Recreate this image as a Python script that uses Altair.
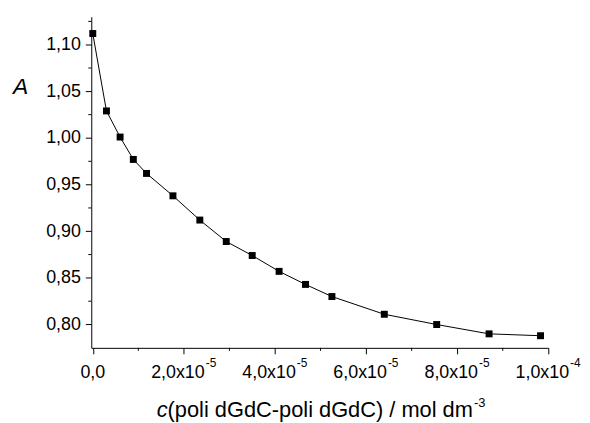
import altair as alt
import pandas as pd

# --- data ---
conc = [0.0, 3.0e-6, 6.0e-6, 8.9e-6, 11.8e-6, 17.6e-6, 23.5e-6, 29.3e-6, 35.0e-6,
        40.9e-6, 46.7e-6, 52.5e-6, 64.0e-6, 75.5e-6, 87.0e-6, 98.3e-6]
absorb = [1.112, 1.029, 1.001, 0.977, 0.962, 0.938, 0.912, 0.889, 0.874,
          0.857, 0.843, 0.830, 0.811, 0.800, 0.790, 0.788]

x_ticks = [0.0, 2e-5, 4e-5, 6e-5, 8e-5, 1e-4]
x_mant = ["0,0", "2,0x10", "4,0x10", "6,0x10", "8,0x10", "1,0x10"]
x_exp = ["", "-5", "-5", "-5", "-5", "-4"]
x_minor = [1e-5, 3e-5, 5e-5, 7e-5, 9e-5]
y_ticks = [0.80, 0.85, 0.90, 0.95, 1.00, 1.05, 1.10]
y_minor = [0.825, 0.875, 0.925, 0.975, 1.025, 1.075, 1.125]

x_title_main = "(poli dGdC-poli dGdC) / mol dm"
x_title_var = "c"
x_title_sup = "-3"
y_title = "A"

FONT = "Liberation Sans"

df = pd.DataFrame({"conc": conc, "A": absorb})
ticks_df = pd.DataFrame({"conc": x_ticks, "mant": x_mant, "exp": x_exp})
zero_df = ticks_df.iloc[:1]
rest_df = ticks_df.iloc[1:]
xminor_df = pd.DataFrame({"conc": x_minor})
yminor_df = pd.DataFrame({"A": y_minor})

xscale = alt.Scale(domain=[-0.33e-6, 1.0e-4], nice=False, zero=False)
yscale = alt.Scale(domain=[0.775, 1.13], nice=False, zero=False)

x_axis = alt.Axis(values=x_ticks, labels=False, tickSize=6, tickColor="black",
                  domainColor="black", domainWidth=1, tickWidth=1, grid=False)
y_axis = alt.Axis(values=y_ticks, tickSize=6, tickColor="black",
                  domainColor="black", domainWidth=1, tickWidth=1, grid=False,
                  labelExpr="replace(format(datum.value, '.2f'), '.', ',')",
                  labelFont=FONT, labelFontSize=18, labelColor="black",
                  labelPadding=5)


def xe():
    return alt.X("conc:Q", scale=xscale, title=None, axis=x_axis)


def ye():
    return alt.Y("A:Q", scale=yscale, title=None, axis=y_axis)


line = alt.Chart(df).mark_line(color="black", strokeWidth=1).encode(x=xe(), y=ye())
points = alt.Chart(df).mark_square(size=49, color="black", opacity=1).encode(x=xe(), y=ye())

xminor = alt.Chart(xminor_df).mark_rule(color="black", strokeWidth=1).encode(
    x=xe(), y=alt.value(334), y2=alt.value(337))
yminor = alt.Chart(yminor_df).mark_rule(color="black", strokeWidth=1).encode(
    y=ye(), x=alt.value(0), x2=alt.value(-3))

zero_lab = alt.Chart(zero_df).mark_text(
    align="center", baseline="alphabetic", font=FONT, fontSize=18, color="black"
).encode(x=xe(), y=alt.value(364), text="mant:N")
mant_lab = alt.Chart(rest_df).mark_text(
    align="right", baseline="alphabetic", dx=21, font=FONT, fontSize=18, color="black"
).encode(x=xe(), y=alt.value(364), text="mant:N")
exp_lab = alt.Chart(rest_df).mark_text(
    align="left", baseline="alphabetic", dx=22, font=FONT, fontSize=12, color="black"
).encode(x=xe(), y=alt.value(353), text="exp:N")

one = alt.Data(values=[{"k": 1}])
ytitle = alt.Chart(one).mark_text(
    align="left", baseline="alphabetic", font=FONT, fontSize=23, fontStyle="italic", color="black"
).encode(x=alt.value(-79), y=alt.value(78), text=alt.value(y_title))
xt_var = alt.Chart(one).mark_text(
    align="right", baseline="alphabetic", font=FONT, fontSize=22, fontStyle="italic", color="black"
).encode(x=alt.value(77), y=alt.value(404), text=alt.value(x_title_var))
xt_main = alt.Chart(one).mark_text(
    align="left", baseline="alphabetic", font=FONT, fontSize=22, color="black"
).encode(x=alt.value(77), y=alt.value(404), text=alt.value(x_title_main))
xt_sup = alt.Chart(one).mark_text(
    align="left", baseline="alphabetic", font=FONT, fontSize=13, color="black"
).encode(x=alt.value(386), y=alt.value(394), text=alt.value(x_title_sup))

chart = alt.layer(
    line, points, xminor, yminor, zero_lab, mant_lab, exp_lab, ytitle, xt_var, xt_main, xt_sup
).properties(
    width=461, height=334,
    autosize=alt.AutoSizeParams(type="none"),
    padding={"left": 84, "top": 7, "right": 34, "bottom": 74},
    background="white",
).configure_view(stroke=None).configure_axis(grid=False)

chart.save("out.html", embed_options={"renderer": "svg", "actions": False})
